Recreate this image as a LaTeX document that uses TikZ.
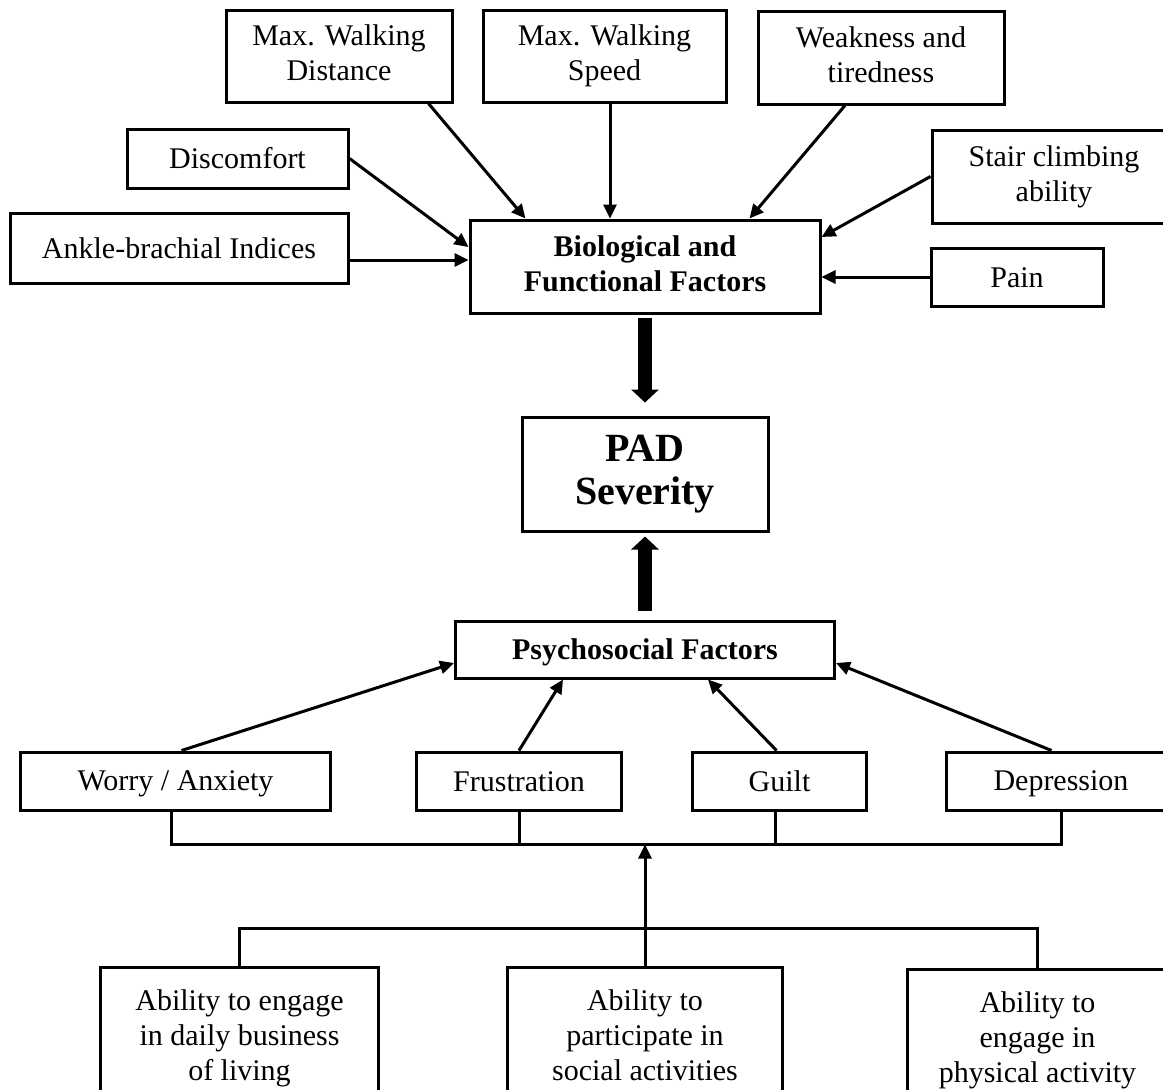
\documentclass[tikz,border=0pt]{standalone}
\usepackage{fontspec}
\setmainfont{Liberation Serif}
\usepackage{tikz}
\usetikzlibrary{positioning, arrows.meta}

\begin{document}
\begin{tikzpicture}[
        x=0.5pt, y=-0.5pt,
        % Define styles for the factor boxes and links
        factor/.style={rectangle, draw, line width=1.5pt, align=center, inner sep=2pt, font=\fontsize{15}{17.5}\selectfont,
            execute at begin node=\rule{0pt}{13pt}, execute at end node=\rule[-3pt]{0pt}{3pt}},
        headbox/.style={factor, font=\fontsize{15}{17.5}\selectfont\bfseries},
        link/.style={line width=1.5pt, -{Triangle[length=7pt, width=6.5pt]}},
        bigarrow/.style={line width=7pt, -{Triangle[length=6.5pt, width=13.5pt]}},
        bus/.style={line width=1.5pt}
    ]
        \useasboundingbox (0,0) rectangle (1163,1089);
        \clip (0,0) rectangle (1163,1089);

        % --------------------------------------------------------
        % CENTRE: Biological factors, PAD severity, Psychosocial
        % --------------------------------------------------------
        \node[headbox, minimum width=175pt, minimum height=46.5pt] (bio) at (645,266.5) {Biological and\\Functional Factors};
        \node[factor, minimum width=123pt, minimum height=57pt, font=\fontsize{20}{21.5}\selectfont\bfseries,
            execute at begin node=\rule{0pt}{16.5pt}, below=50.5pt of bio] (pad) {PAD\\Severity};
        \node[headbox, minimum width=189.5pt, minimum height=28.5pt, below=43.5pt of pad] (psych) {Psychosocial Factors};

        \draw[bigarrow, shorten <=1.5pt, shorten >=6.5pt] (bio.south) -- (pad.north);
        \draw[bigarrow, shorten <=4.5pt, shorten >=2pt] (psych.north) -- (pad.south);

        % --------------------------------------------------------
        % TOP: Biological and functional items
        % --------------------------------------------------------
        \node[factor, minimum width=113pt, minimum height=46pt, above=57.5pt of bio, xshift=-153pt] (dist) {Max. Walking\\Distance};
        \node[factor, minimum width=121.5pt, minimum height=46pt, above=57.5pt of bio, xshift=-20.25pt] (speed) {Max. Walking\\Speed};
        \node[factor, minimum width=123pt, minimum height=46.5pt, above=56.5pt of bio, xshift=118pt] (weak) {Weakness and\\tiredness};
        \node[factor, minimum width=110.5pt, minimum height=29.5pt, left=59.5pt of bio, yshift=54pt] (disc) {Discomfort};
        \node[factor, minimum width=169pt, minimum height=35pt, left=59.5pt of bio, yshift=9.25pt] (ankle) {Ankle-brachial Indices};
        \node[factor, minimum width=122pt, minimum height=46.5pt, right=54.5pt of bio, yshift=45pt] (stair) {Stair climbing\\ability};
        \node[factor, minimum width=86pt, minimum height=29pt, right=54pt of bio, yshift=-5.25pt] (pain) {Pain};

        \draw[link] ([xshift=-12.5pt]dist.south east) -- ([xshift=28.5pt]bio.north west);
        \draw[link] ([xshift=2.75pt]speed.south) -- ([xshift=2.75pt]speed.south |- bio.north);
        \draw[link] ([xshift=-18pt]weak.south) -- ([xshift=-36pt]bio.north east);
        \draw[link] (disc.east) -- ([yshift=9.75pt]bio.west);
        \draw[link] ([yshift=-6pt]ankle.east) -- ([yshift=-6pt]ankle.east -| bio.west);
        \draw[link] (stair.west) -- ([yshift=14.75pt]bio.east);
        \draw[link] (pain.west) -- (pain.west -| bio.east);

        % --------------------------------------------------------
        % BELOW: Psychosocial items
        % --------------------------------------------------------
        \node[factor, minimum width=155pt, minimum height=29pt, below=35.5pt of psych, xshift=-234.75pt] (worry) {Worry / Anxiety};
        \node[factor, minimum width=102.5pt, minimum height=29pt, below=35.5pt of psych, xshift=-63pt] (frus) {Frustration};
        \node[factor, minimum width=87pt, minimum height=29pt, below=35.5pt of psych, xshift=67.25pt] (guilt) {Guilt};
        \node[factor, minimum width=114.5pt, minimum height=29pt, below=35.5pt of psych, xshift=208pt] (dep) {Depression};

        \draw[link] ([xshift=3pt]worry.north) -- ([yshift=-6.75pt]psych.west);
        \draw[link] (frus.north) -- ([xshift=54.5pt]psych.south west);
        \draw[link] ([xshift=-1.5pt]guilt.north) -- ([xshift=-64pt]psych.south east);
        \draw[link] ([xshift=-4.75pt]dep.north) -- ([yshift=-6.75pt]psych.east);

        % --------------------------------------------------------
        % BOTTOM: Abilities feeding the psychosocial items
        % --------------------------------------------------------
        \node[factor, minimum width=137.5pt, minimum height=71pt, below=143pt of psych] (social) {Ability to\\participate in\\social activities};
        \node[factor, minimum width=139pt, minimum height=71pt, below=143pt of psych, xshift=-202.75pt] (daily) {Ability to engage\\in daily business\\of living};
        \node[factor, minimum width=130pt, minimum height=71pt, below=144pt of psych, xshift=196.25pt] (physical) {Ability to\\engage in\\physical activity};

        \coordinate[below=82.5pt of psych.south] (upbus);
        \coordinate[above=18.5pt of social.north] (lowbus);

        \draw[bus] ([xshift=-2pt]worry.south) -- ([xshift=-2pt]worry.south |- upbus) -- (dep.south |- upbus) -- (dep.south);
        \draw[bus] (frus.south) -- (frus.south |- upbus);
        \draw[bus] ([xshift=-2pt]guilt.south) -- ([xshift=-2pt]guilt.south |- upbus);

        \draw[bus] (daily.north) -- (daily.north |- lowbus) -- (physical.north |- lowbus) -- (physical.north);
        \draw[link] (social.north) -- (upbus);

\end{tikzpicture}
\end{document}
